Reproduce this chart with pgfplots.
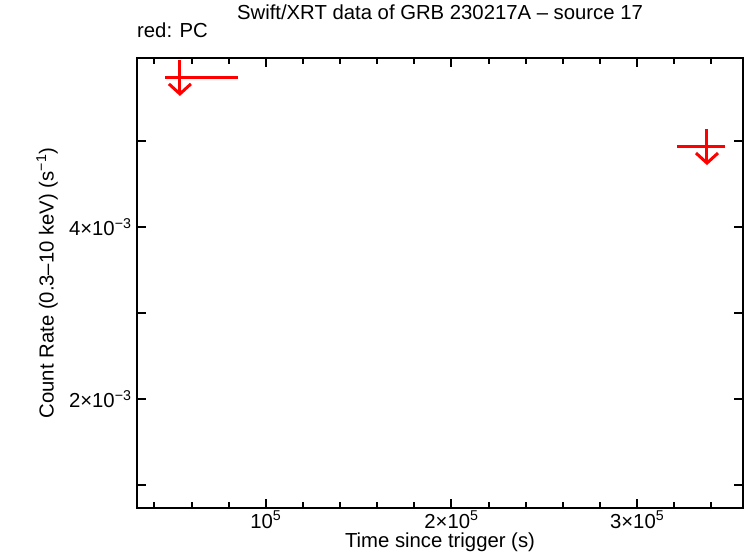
\documentclass[border=0pt]{standalone}
\usepackage{pgfplots}
\pgfplotsset{compat=1.18}
\usepackage{fontspec}
\setmainfont{Liberation Sans}
\usetikzlibrary{arrows.meta}
\pgfplotstableread{
x y exm exp
53760 0.005744 8060 31190
337600 0.00494 16000 9500
}\pcdata
\begin{document}
\begin{tikzpicture}[font=\fontsize{20.3}{24}\selectfont]
\path (-137pt,-50pt) rectangle (609pt,508pt);
\begin{axis}[
  at={(0,0)}, anchor=south west,
  scale only axis, width=606pt, height=450pt,
  xmin=30645, xmax=357000,
  ymin=0.000733, ymax=0.005965,
  axis line style={line width=2.5pt},
  tick style={black, line width=2pt},
  major tick length=9pt, minor tick length=6pt,
  tick align=inside, xtick pos=both, ytick pos=both,
  tick label style={font=\fontsize{20.3}{24}\selectfont},
  label style={font=\fontsize{20.3}{24}\selectfont},
  title style={font=\fontsize{20.3}{24}\selectfont},
  xtick={100000,200000,300000},
  xticklabels={10\textsuperscript{5}, 2×10\textsuperscript{5}, 3×10\textsuperscript{5}},
  minor xtick={40000,60000,80000,120000,140000,160000,180000,220000,240000,260000,280000,320000,340000},
  ytick={0.001,0.002,0.003,0.004,0.005},
  yticklabels={,2×10\textsuperscript{−3},,4×10\textsuperscript{−3},},
  scaled ticks=false,
  xticklabel style={anchor=base, yshift=-20pt},
  yticklabel style={anchor=east, xshift=-2pt},
  xlabel={Time since trigger (s)},
  ylabel={Count Rate (0.3–10 keV) (s\textsuperscript{−1})},
  xlabel style={at={(rel axis cs:0.5,0)}, anchor=base, yshift=-39pt},
  ylabel style={at={(axis description cs:-0.1485,0.5)}, anchor=center},
  title={Swift/XRT data of GRB 230217A – source 17},
  title style={at={(rel axis cs:0.5,1)}, anchor=base, yshift=32pt},
  clip=false,
]
\addplot[draw=none, mark=none,
  error bars/.cd, x dir=both, x explicit, y dir=plus, y fixed=0.0002,
  error mark=none, error bar style={draw=red, line width=3pt}]
  table[x=x, y=y, x error minus=exm, x error plus=exp] {\pcdata};
\addplot[red, line width=3pt, mark=none, quiver={u=0, v=-0.00022},
  -{Straight Barb[length=10pt, width=22pt]}]
  table[x=x, y=y] {\pcdata};
\node[anchor=base west, inner sep=0pt] at (rel axis cs:0,1) [yshift=20pt] {red: PC};
\end{axis}
\end{tikzpicture}
\end{document}
